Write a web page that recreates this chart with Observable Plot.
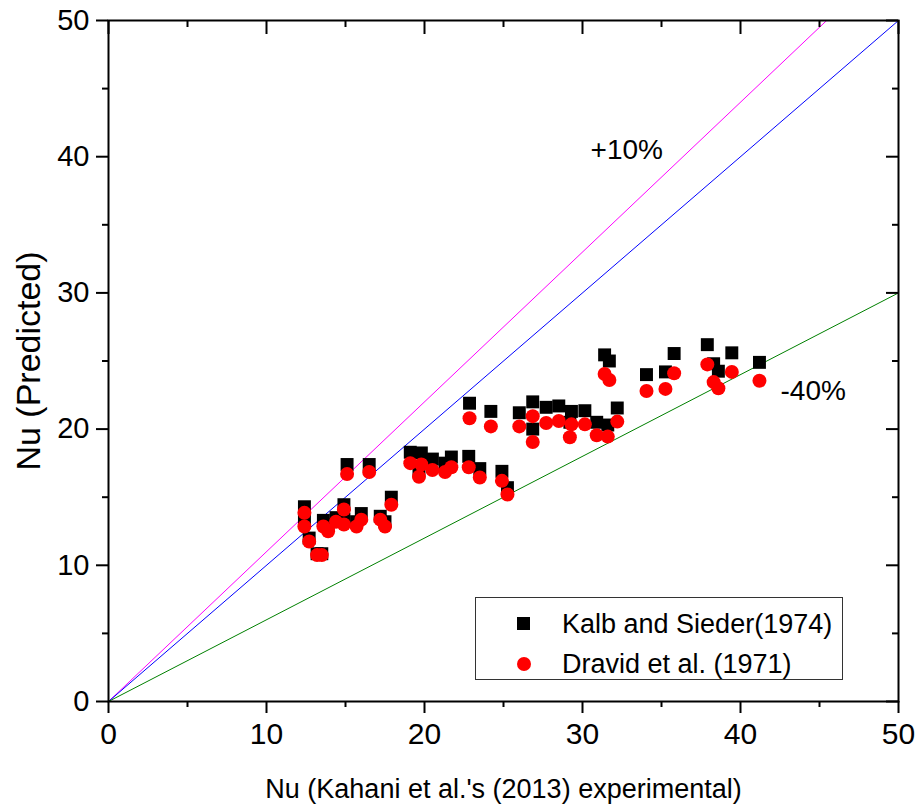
<!DOCTYPE html>
<html>
<head>
<meta charset="utf-8">
<script src="https://cdn.jsdelivr.net/npm/d3@7"></script>
<script src="https://cdn.jsdelivr.net/npm/@observablehq/plot@0.6"></script>
<style>
  body { margin: 0; background: #fff; font-family: "Liberation Sans", Arial, sans-serif; }
  #wrap { position: relative; width: 916px; height: 807px; }
  #legend { position: absolute; left: 475px; top: 597px; width: 368px; height: 83px;
            border: 1px solid #333; box-sizing: border-box; background: #fff; }
  #legend .sym { position: absolute; }
  #legend .lab { position: absolute; left: 86px; font-size: 27px; line-height: 27px; color: #000; white-space: nowrap; }
</style>
</head>
<body>
<div id="wrap"></div>
<script>
// ---- data ----
const nuExperimental = [12.4,12.4,12.7,13.2,13.5,13.6,13.9,14.4,14.9,14.9,15.1,15.7,16.0,16.5,17.2,17.5,17.9,19.1,19.8,19.65,20.5,21.3,21.7,22.8,22.85,23.5,24.2,24.9,25.25,26.0,26.85,26.85,27.7,28.5,29.3,29.2,30.15,30.9,31.6,32.2,31.4,31.7,34.05,35.25,35.8,37.9,38.3,38.6,39.45,41.2];
const nuKalbSieder = [14.3,13.3,12.0,10.85,10.85,13.3,13.0,13.5,14.45,13.4,17.4,13.2,13.8,17.4,13.6,13.2,15.0,18.3,18.25,17.0,17.8,17.5,17.95,18.0,21.9,17.1,21.3,16.9,15.7,21.2,22.0,20.0,21.6,21.7,21.3,20.5,21.35,20.5,20.3,21.55,25.45,25.0,24.0,24.2,25.55,26.2,24.8,24.25,25.6,24.9];
const nuDravid = [13.85,12.85,11.75,10.75,10.75,12.85,12.5,13.2,14.1,13.0,16.7,12.85,13.35,16.85,13.35,12.85,14.45,17.5,17.4,16.5,17.0,16.85,17.2,17.2,20.8,16.45,20.2,16.2,15.2,20.2,20.95,19.05,20.45,20.6,20.35,19.4,20.35,19.55,19.45,20.55,24.05,23.6,22.8,22.95,24.1,24.75,23.45,23.0,24.2,23.55];

const seriesNames = ["Kalb and Sieder(1974)", "Dravid et al. (1971)"];
const seriesColors = ["#000000", "#ff0000"];

// reference lines y = factor * x
const refFactors = [1.1, 1.0, 0.6];
const refColors = ["#ff00ff", "#0000ff", "#008000"];

// annotations
const annLabels = ["+10%", "-40%"];
const annX = [32.8, 44.6];
const annY = [40.5, 22.8];

const axisMax = 50;
const majorTicks = [0, 10, 20, 30, 40, 50];
const minorTicks = [5, 15, 25, 35, 45];

const xTitle = "Nu (Kahani et al.'s (2013) experimental)";
const yTitle = "Nu (Predicted)";

// ---- build tables ----
const kalb = nuExperimental.map((x, i) => ({x, y: nuKalbSieder[i]}));
const dravid = nuExperimental.map((x, i) => ({x, y: nuDravid[i]}));
const refLines = refFactors.map((k, i) => {
  const xe = Math.min(axisMax, axisMax / k);
  return [{x: 0, y: 0, c: refColors[i]}, {x: xe, y: k * xe, c: refColors[i]}];
});
const anns = annLabels.map((t, i) => ({t, x: annX[i], y: annY[i]}));

const W = 916, H = 807, mL = 108, mR = 18, mT = 20, mB = 106;
const fw = W - mL - mR, fh = H - mT - mB;

const plot = Plot.plot({
  width: W, height: H,
  marginLeft: mL, marginRight: mR, marginTop: mT, marginBottom: mB,
  style: {fontFamily: "'Liberation Sans', Arial, sans-serif", background: "#fff", color: "#000", overflow: "visible"},
  x: {domain: [0, axisMax]},
  y: {domain: [0, axisMax]},
  marks: [
    ...refLines.map(l => Plot.line(l, {x: "x", y: "y", stroke: l[0].c, strokeWidth: 1})),
    Plot.dot(kalb, {x: "x", y: "y", symbol: "square", r: 7.3, fill: seriesColors[0], stroke: "none"}),
    Plot.dot(dravid, {x: "x", y: "y", symbol: "circle", r: 7, fill: seriesColors[1], stroke: "none"}),
    Plot.text(anns, {x: "x", y: "y", text: "t", fontSize: 28, fill: "#000"}),
    // bottom / left axes with outward ticks
    Plot.axisX({ticks: majorTicks, tickSize: 12, tickPadding: 9, strokeWidth: 2, fontSize: 30, tickFormat: d3.format("d"), label: null}),
    Plot.axisX({ticks: minorTicks, tickSize: 6, strokeWidth: 2, tickFormat: () => "", label: null}),
    Plot.axisY({ticks: majorTicks, tickSize: 12, tickPadding: 7, strokeWidth: 2, fontSize: 29, tickFormat: d3.format("d"), label: null}),
    Plot.axisY({ticks: minorTicks, tickSize: 6, strokeWidth: 2, tickFormat: () => "", label: null}),
    // top / right inward ticks
    Plot.ruleX(majorTicks, {x: d => d, insetBottom: fh - 14, strokeWidth: 2}),
    Plot.ruleX(minorTicks, {x: d => d, insetBottom: fh - 7, strokeWidth: 2}),
    Plot.ruleY(majorTicks, {y: d => d, insetLeft: fw - 12, strokeWidth: 2}),
    Plot.ruleY(minorTicks, {y: d => d, insetLeft: fw - 6, strokeWidth: 2}),
    Plot.frame({stroke: "#000", strokeWidth: 2}),
    // axis titles
    Plot.text([xTitle], {frameAnchor: "bottom", textAnchor: "middle", lineAnchor: "middle", dy: 88, fontSize: 27, fill: "#000"}),
    Plot.text([yTitle], {frameAnchor: "left", textAnchor: "middle", lineAnchor: "middle", dx: -79, rotate: -90, fontSize: 34, fill: "#000"})
  ]
});

const wrap = document.getElementById("wrap");
wrap.appendChild(plot);

// legend (inside plot area, bottom right)
const legend = document.createElement("div");
legend.id = "legend";
const syms = [
  `<div class="sym" style="left:41px;top:19px;width:13px;height:13px;background:${seriesColors[0]}"></div>`,
  `<div class="sym" style="left:41px;top:59px;width:14px;height:14px;border-radius:50%;background:${seriesColors[1]}"></div>`
];
legend.innerHTML = seriesNames.map((n, i) =>
  syms[i] + `<div class="lab" style="top:${13 + i * 40}px">${n}</div>`).join("");
wrap.appendChild(legend);
</script>
</body>
</html>
